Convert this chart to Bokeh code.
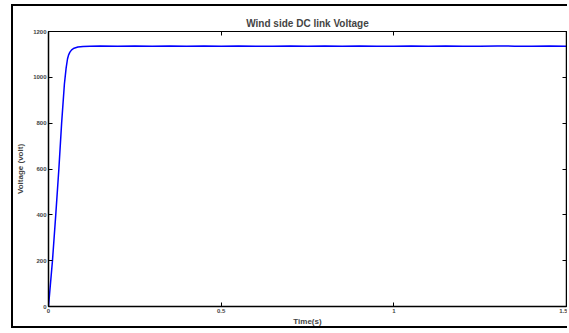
from bokeh.plotting import figure
from bokeh.models import LinearAxis, FixedTicker, Range1d
from bokeh.embed import file_html
from bokeh.resources import INLINE

# ---- data ----
time_s = [0.0, 0.004, 0.0115, 0.021, 0.030, 0.038, 0.046, 0.051, 0.055, 0.058,
          0.062, 0.067, 0.074, 0.085, 0.10, 0.12, 0.15, 0.20, 0.25, 0.30,
          0.35, 0.40, 0.45, 0.50, 0.55, 0.60, 0.65, 0.70, 0.75, 0.80,
          0.85, 0.90, 0.95, 1.00, 1.05, 1.10, 1.15, 1.20, 1.25, 1.30,
          1.35, 1.40, 1.45, 1.50]
voltage = [0, 70, 200, 400, 600, 800, 970, 1040, 1080, 1097,
           1110, 1120, 1127, 1132, 1135, 1136, 1137, 1136, 1137, 1136,
           1137, 1136, 1137, 1136, 1137, 1136, 1136, 1137, 1136, 1137,
           1136, 1137, 1136, 1136, 1137, 1136, 1137, 1136, 1136, 1137,
           1136, 1136, 1137, 1136]

x_ticks = [0, 0.5, 1, 1.5]
x_tick_labels = {0: "0", 0.5: "0.5", 1: "1", 1.5: "1.5"}
y_ticks = [0, 200, 400, 600, 800, 1000, 1200]

title_text = "Wind side DC link Voltage"
x_label = "Time(s)"
y_label = "Voltage (volt)"

FONT = "Liberation Sans"

p = figure(width=556, height=324, output_backend="svg", toolbar_location=None,
           x_range=Range1d(0, 1.5), y_range=Range1d(0, 1200),
           min_border_left=33, min_border_right=3, min_border_top=25,
           min_border_bottom=24, title=title_text)
p.styles = {"margin-left": "11px", "margin-top": "4px",
            "border-top": "2px solid black", "border-left": "2px solid black",
            "border-bottom": "2px solid black"}

p.title.text_font = FONT
p.title.text_font_size = "10px"
p.title.text_font_style = "bold"
p.title.align = "center"
p.title.standoff = 5

p.grid.visible = False
p.outline_line_color = "black"
p.outline_line_width = 1

p.line(time_s, voltage, line_color="#0000ff", line_width=1.5)

def style_axis(ax):
    ax.axis_line_color = "black"
    ax.axis_line_width = 1.5
    ax.major_tick_line_color = "black"
    ax.major_tick_in = 4
    ax.major_tick_out = 0
    ax.minor_tick_line_color = None
    ax.major_label_text_font = FONT
    ax.major_label_text_font_style = "bold"
    ax.major_label_text_font_size = "6px"
    ax.major_label_standoff = 2
    ax.axis_label_text_font = FONT
    ax.axis_label_text_font_style = "bold"
    ax.axis_label_text_font_size = "8px"

xa = p.xaxis[0]
xa.ticker = FixedTicker(ticks=x_ticks)
xa.major_label_overrides = x_tick_labels
xa.axis_label = x_label
xa.axis_label_standoff = 1
style_axis(xa)

ya = p.yaxis[0]
ya.ticker = FixedTicker(ticks=y_ticks)
ya.axis_label = y_label
ya.axis_label_standoff = 5
style_axis(ya)

top = LinearAxis(ticker=FixedTicker(ticks=x_ticks))
style_axis(top)
top.major_label_overrides = {t: "" for t in x_ticks}
top.major_label_standoff = 0
top.axis_line_width = 1
p.add_layout(top, "above")

right = LinearAxis(ticker=FixedTicker(ticks=y_ticks))
style_axis(right)
right.major_label_overrides = {t: "" for t in y_ticks}
right.major_label_standoff = 0
p.add_layout(right, "right")

open("out.html", "w").write(file_html(p, INLINE))
